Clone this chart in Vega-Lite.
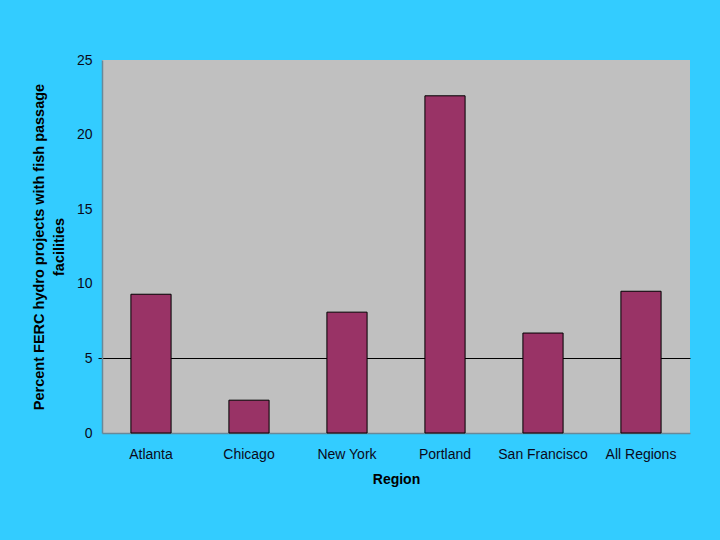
{
  "$schema": "https://vega.github.io/schema/vega-lite/v6.json",
  "autosize": {"type": "none"},
  "padding": {"left": 102, "top": 60, "right": 30, "bottom": 107},
  "width": 588,
  "height": 373,
  "background": "#33CCFF",
  "config": {
    "view": {"fill": "#C0C0C0", "stroke": null},
    "font": "Liberation Sans"
  },
  "data": {
    "values": [
      {"Region": "Atlanta", "Percent": 9.3},
      {"Region": "Chicago", "Percent": 2.2},
      {"Region": "New York", "Percent": 8.1},
      {"Region": "Portland", "Percent": 22.6},
      {"Region": "San Francisco", "Percent": 6.7},
      {"Region": "All Regions", "Percent": 9.5}
    ]
  },
  "mark": {"type": "bar", "color": "#993366", "stroke": "#000000", "strokeWidth": 1},
  "encoding": {
    "x": {
      "field": "Region",
      "type": "nominal",
      "sort": null,
      "scale": {"paddingInner": 0.59, "paddingOuter": 0.295},
      "axis": {
        "title": "Region",
        "titleFont": "Liberation Sans",
        "titleFontSize": 14,
        "titleFontWeight": "bold",
        "titleColor": "#000000",
        "titlePadding": 11,
        "labelAngle": 0,
        "labelFontSize": 14,
        "labelColor": "#0a0a1a",
        "labelPadding": 14,
        "ticks": false,
        "domainColor": "#6a8898",
        "domainWidth": 1.5
      }
    },
    "y": {
      "field": "Percent",
      "type": "quantitative",
      "scale": {"domain": [0, 25]},
      "axis": {
        "title": ["Percent FERC hydro projects with fish passage", "facilities"],
        "titleFont": "Liberation Sans",
        "titleFontSize": 14.5,
        "titleFontWeight": "bold",
        "titleColor": "#000000",
        "titlePadding": 10,
        "titleLineHeight": 20,
        "values": [0, 5, 10, 15, 20, 25],
        "labelFontSize": 14,
        "labelColor": "#0a0a1a",
        "labelPadding": 6,
        "ticks": true,
        "tickSize": 4,
        "tickColor": {"condition": {"test": "datum.value === 5", "value": "#000000"}, "value": "transparent"},
        "grid": true,
        "gridColor": {"condition": {"test": "datum.value === 5", "value": "#000000"}, "value": "transparent"},
        "gridWidth": 1,
        "domainColor": "#6a8898",
        "domainWidth": 1.5
      }
    }
  }
}
